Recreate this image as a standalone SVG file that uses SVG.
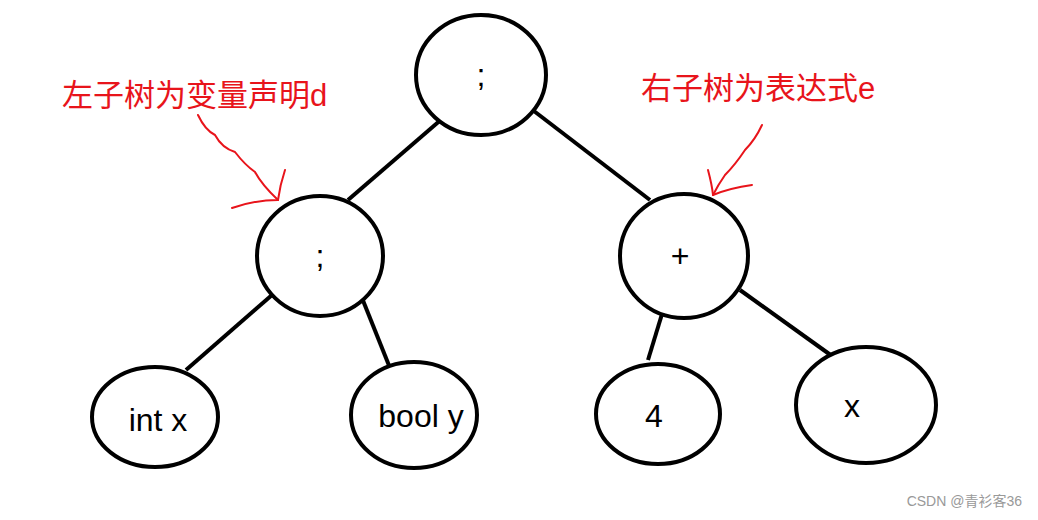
<svg xmlns="http://www.w3.org/2000/svg" width="1038" height="520" viewBox="0 0 1038 520">
<style>
.n{fill:#fff;stroke:#000;stroke-width:4}
.t{font-family:"Liberation Sans",Arial,sans-serif;font-size:32px;fill:#000;text-anchor:middle}
.c{stroke:#000;stroke-width:4;fill:none}
.r{stroke:#e8141b;stroke-width:2;fill:none;stroke-linecap:round}
.rt{font-family:"Liberation Sans","Noto Sans CJK SC",sans-serif;font-size:31px;fill:#e8141b}
</style>
<rect width="1038" height="520" fill="#fff"/>
<g id="connectors">
<line class="c" x1="443" y1="118" x2="348" y2="200"/>
<line class="c" x1="530" y1="108" x2="650" y2="200"/>
<line class="c" x1="272" y1="295" x2="186" y2="370"/>
<line class="c" x1="362" y1="298" x2="390" y2="368"/>
<line class="c" x1="662" y1="314" x2="648" y2="360"/>
<line class="c" x1="740" y1="290" x2="832" y2="356"/>
</g>
<g id="root"><ellipse class="n" cx="481" cy="75" rx="65" ry="60"/><text class="t" x="481" y="86">;</text></g>
<g id="left"><ellipse class="n" cx="320" cy="256" rx="63" ry="60"/><text class="t" x="320" y="267">;</text></g>
<g id="plus"><ellipse class="n" cx="684" cy="256" rx="64" ry="62"/><text class="t" x="680" y="267">+</text></g>
<g id="intx"><ellipse class="n" cx="155" cy="417" rx="63" ry="50"/><text class="t" x="158" y="431">int x</text></g>
<g id="booly"><ellipse class="n" cx="414" cy="415" rx="63" ry="53"/><text class="t" x="421" y="427">bool y</text></g>
<g id="four"><ellipse class="n" cx="658" cy="414" rx="62" ry="50"/><text class="t" x="654" y="427">4</text></g>
<g id="x"><ellipse class="n" cx="866" cy="405" rx="70" ry="58"/><text class="t" x="852" y="417">x</text></g>
<g id="annotations">
<text class="rt" x="62" y="106">左子树为变量声明d</text>
<text class="rt" x="641" y="99">右子树为表达式e</text>
<path class="r" d="M198 115 Q205 130 215 135 Q222 148 235 152 Q245 165 255 172 Q262 185 278 200"/>
<path class="r" d="M232 208 Q255 200 278 200 M285 170 Q280 185 278 200"/>
<path class="r" d="M762 125 Q755 140 745 150 Q735 165 725 175 Q718 185 713 195"/>
<path class="r" d="M708 170 Q712 185 713 195 M752 185 Q730 188 713 195"/>
</g>
<text x="1022" y="506" text-anchor="end" font-family="Liberation Sans,Noto Sans CJK SC,sans-serif" font-size="14" fill="#999">CSDN @青衫客36</text>
</svg>
